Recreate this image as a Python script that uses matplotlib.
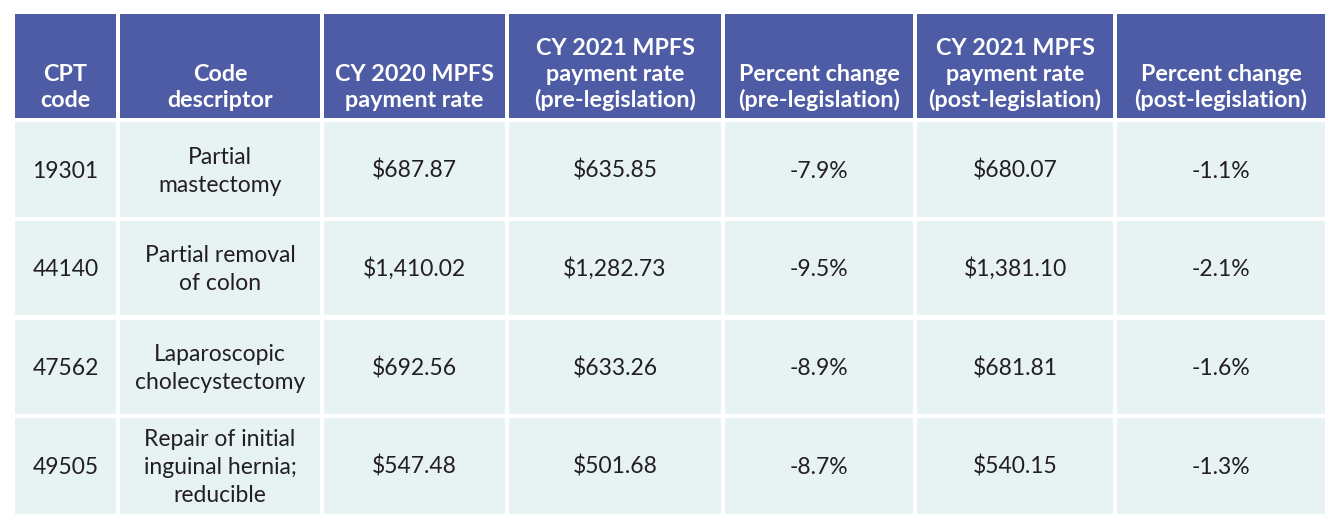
import matplotlib
matplotlib.use("Agg")
import matplotlib.pyplot as plt
from matplotlib.patches import Rectangle

HEAD_BG = "#4E5BA5"
BODY_BG = "#E7F2F3"
INK = "#231F20"

headers = [
    ["CPT", "code"],
    ["Code", "descriptor"],
    ["CY 2020 MPFS", "payment rate"],
    ["CY 2021 MPFS", "payment rate", "(pre-legislation)"],
    ["Percent change", "(pre-legislation)"],
    ["CY 2021 MPFS", "payment rate", "(post-legislation)"],
    ["Percent change", "(post-legislation)"],
]
cpt_codes = ["19301", "44140", "47562", "49505"]
descriptors = [
    ["Partial", "mastectomy"],
    ["Partial removal", "of colon"],
    ["Laparoscopic", "cholecystectomy"],
    ["Repair of initial", "inguinal hernia;", "reducible"],
]
rate_2020 = ["$687.87", "$1,410.02", "$692.56", "$547.48"]
rate_2021_pre = ["$635.85", "$1,282.73", "$633.26", "$501.68"]
pct_pre = ["-7.9%", "-9.5%", "-8.9%", "-8.7%"]
rate_2021_post = ["$680.07", "$1,381.10", "$681.81", "$540.15"]
pct_post = ["-1.1%", "-2.1%", "-1.6%", "-1.3%"]

# layout in pixels (figure is 1340 x 528)
col_x = [(15, 116), (120, 320), (324, 505), (509, 721), (725, 913), (917, 1113), (1117, 1325)]
head_y = (14, 118)
row_y = [(122, 217), (221, 315), (320, 414), (418, 514)]

fig = plt.figure(figsize=(13.4, 5.28), dpi=100)
ax = fig.add_axes([0, 0, 1, 1])
ax.set_xlim(0, 1340)
ax.set_ylim(528, 0)
ax.axis("off")

head_font = dict(family=["Lato", "DejaVu Sans"], fontsize=16.8, fontweight="bold", color="white")
body_font = dict(family=["Lato", "DejaVu Sans"], fontsize=16.5, color=INK)

# header
for (x0, x1), lines in zip(col_x, headers):
    ax.add_patch(Rectangle((x0, head_y[0]), x1 - x0, head_y[1] - head_y[0],
                           facecolor=HEAD_BG, edgecolor="none"))
    n = len(lines)
    for i, line in enumerate(lines):
        yb = 107 - (n - 1 - i) * 26
        ax.text((x0 + x1) / 2, yb, line, ha="center", va="baseline", **head_font)

# body
columns = [[[c] for c in cpt_codes], descriptors,
           [[v] for v in rate_2020], [[v] for v in rate_2021_pre],
           [[v] for v in pct_pre], [[v] for v in rate_2021_post],
           [[v] for v in pct_post]]
for r, (y0, y1) in enumerate(row_y):
    yc = (y0 + y1) / 2
    for (x0, x1), col in zip(col_x, columns):
        ax.add_patch(Rectangle((x0, y0), x1 - x0, y1 - y0,
                               facecolor=BODY_BG, edgecolor="none"))
        lines = col[r]
        n = len(lines)
        for i, line in enumerate(lines):
            yb = yc + 8 + (i - (n - 1) / 2) * 28
            ax.text((x0 + x1) / 2, yb, line, ha="center", va="baseline", **body_font)

fig.savefig("out.png", dpi=100)
